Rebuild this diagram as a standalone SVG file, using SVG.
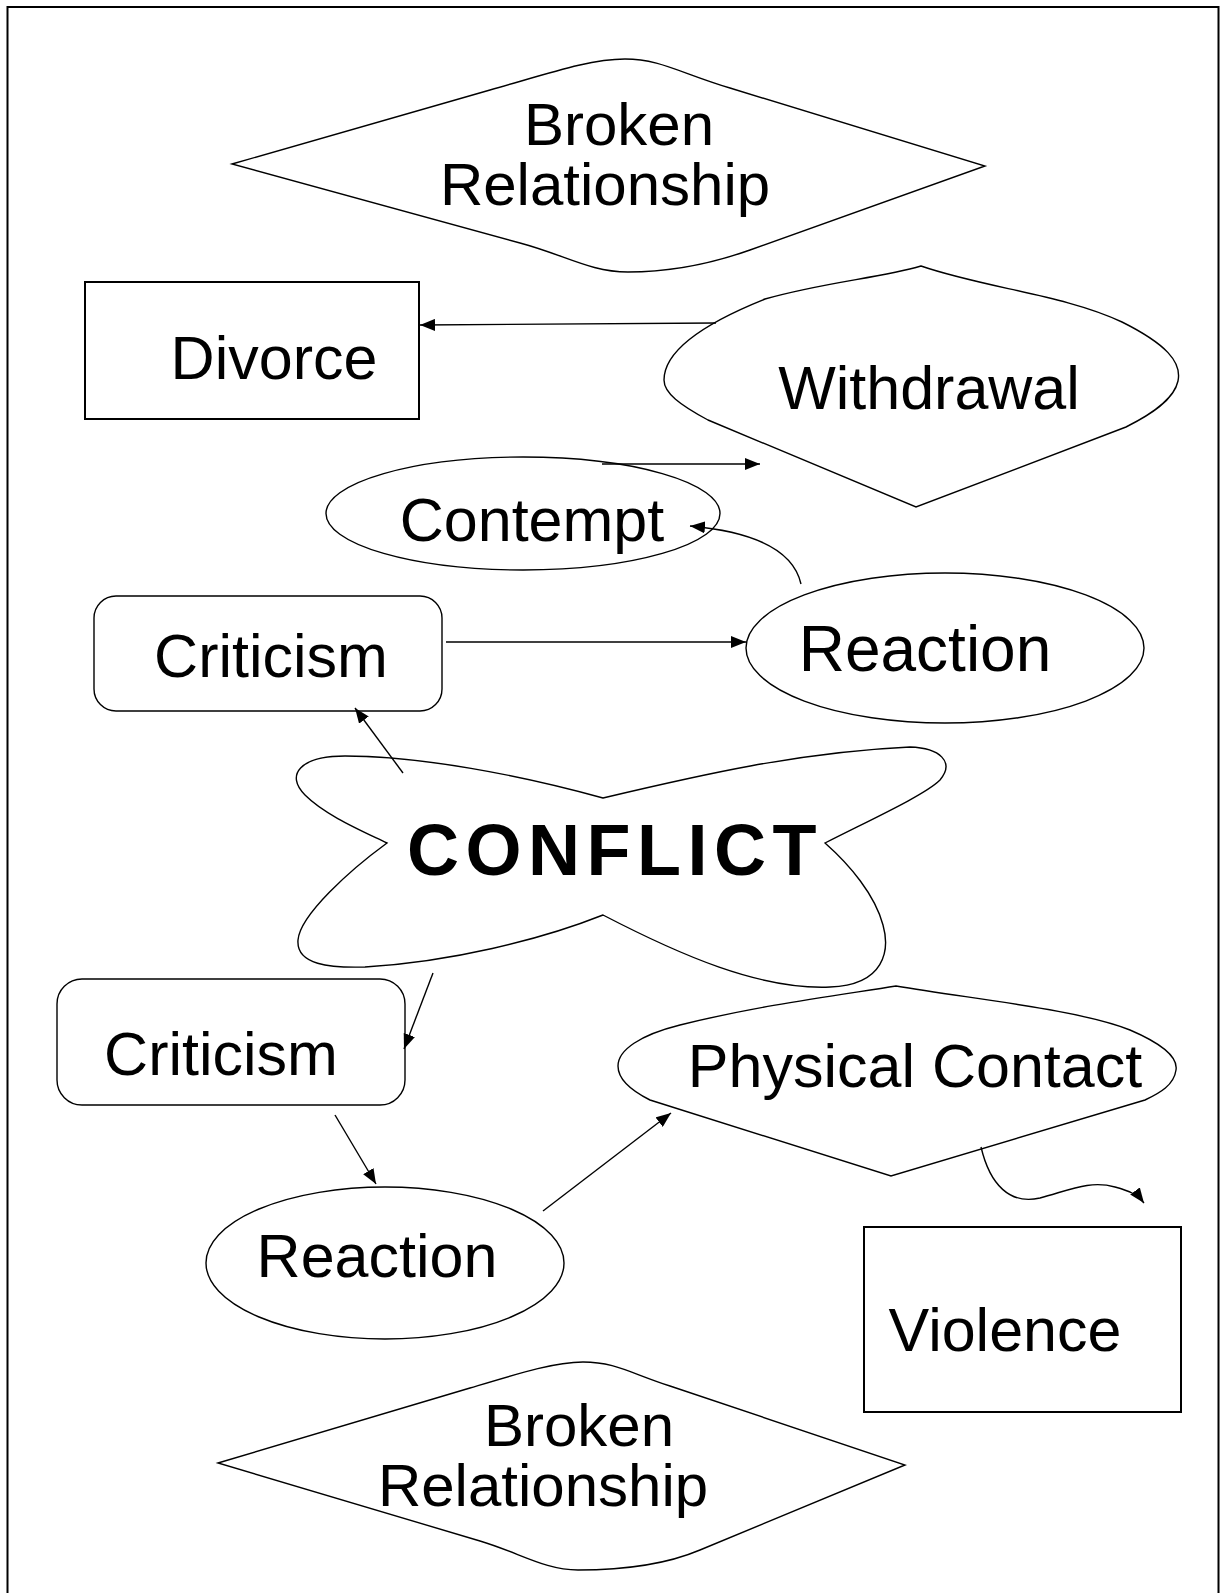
<svg xmlns="http://www.w3.org/2000/svg" width="1220" height="1593" viewBox="0 0 1220 1593">
<defs>
<style>
.shape{fill:#fff;stroke:#000;stroke-width:1.4}
.box{fill:#fff;stroke:#000;stroke-width:2}
.lbl{font-family:"Liberation Sans",Arial,sans-serif;font-size:61px;fill:#000;text-anchor:middle}
.br{font-size:60px}
.big{font-family:"Liberation Sans",Arial,sans-serif;font-size:72px;font-weight:bold;letter-spacing:6.5px;fill:#000}
.conn{fill:none;stroke:#000;stroke-width:1.4}
</style>
<marker id="ah" markerUnits="userSpaceOnUse" markerWidth="16" markerHeight="12" refX="15" refY="6" orient="auto">
<path d="M0,0 L15,6 L0,12 Z" fill="#000"/>
</marker>
</defs>
<rect x="7.5" y="7" width="1211" height="1620" fill="#fff" stroke="#000" stroke-width="2"/>

<g id="broken-top">
<path class="shape" d="M232,164 L490,90 C550,73 590,59 625,59 C660,59 680,73 730,88 L985,166 L750,250 C705,266 665,272 628,272 C590,272 565,255 520,243 Z"/>
<text class="lbl br"><tspan x="619" y="145">Broken</tspan><tspan x="605" y="205">Relationship</tspan></text>
</g>

<g id="divorce">
<rect class="box" x="85" y="282" width="334" height="137"/>
<text class="lbl" x="274" y="379">Divorce</text>
</g>

<g id="withdrawal">
<path class="shape" d="M921,266 C985,288 1065,295 1122,322 C1166,344 1182,362 1178,381 C1174,400 1150,415 1126,427 L916,507 L708,420 C680,405 664,393 664,380 C664,352 700,325 765,299 C825,282 880,278 921,266 Z"/>
<text class="lbl" x="929" y="409">Withdrawal</text>
</g>

<g id="contempt">
<ellipse class="shape" cx="523" cy="513.5" rx="197" ry="56.5"/>
<text class="lbl" x="532" y="541">Contempt</text>
</g>

<g id="criticism-top">
<rect class="shape" x="94" y="596" width="348" height="115" rx="22" ry="22"/>
<text class="lbl" x="271" y="677">Criticism</text>
</g>

<g id="reaction-top">
<ellipse class="shape" cx="945" cy="648" rx="199" ry="75"/>
<text class="lbl" x="925" y="671" style="font-size:64px">Reaction</text>
</g>

<g id="conflict">
<path class="shape" d="M603,798 C520,775 420,756 345,756 C300,756 285,775 305,795 C325,815 360,830 387,843 C350,870 300,915 298,940 C296,965 330,968 365,967 C450,962 540,940 603,915 C680,955 760,990 830,987 C885,985 890,950 883,925 C875,895 850,865 825,843 C870,820 925,795 940,780 C955,762 940,748 910,747 C800,752 700,775 603,798 Z"/>
<text class="big" x="407" y="875">CONFLICT</text>
</g>

<g id="criticism-bottom">
<rect class="shape" x="57" y="979" width="348" height="126" rx="25" ry="25"/>
<text class="lbl" x="221" y="1075">Criticism</text>
</g>

<g id="physical-contact">
<path class="shape" d="M896,986 C980,1000 1080,1010 1130,1030 C1165,1045 1178,1058 1176,1070 C1174,1085 1160,1093 1145,1100 L891,1176 L650,1100 C630,1090 618,1078 618,1066 C618,1050 640,1035 680,1025 C760,1005 840,995 896,986 Z"/>
<text class="lbl" x="915" y="1087">Physical Contact</text>
</g>

<g id="reaction-bottom">
<ellipse class="shape" cx="385" cy="1263" rx="179" ry="76"/>
<text class="lbl" x="377" y="1277">Reaction</text>
</g>

<g id="violence">
<rect class="box" x="864" y="1227" width="317" height="185"/>
<text class="lbl" x="1005" y="1351">Violence</text>
</g>

<g id="broken-bottom">
<path class="shape" d="M218,1463 L470,1388 C520,1373 555,1362 583,1362 C615,1362 630,1373 670,1386 L905,1465 L700,1550 C660,1567 615,1570 578,1570 C545,1570 520,1553 480,1541 Z"/>
<text class="lbl br"><tspan x="579" y="1446">Broken</tspan><tspan x="543" y="1506">Relationship</tspan></text>
</g>

<g id="connectors">
<line class="conn" x1="716" y1="323" x2="420" y2="325" marker-end="url(#ah)"/>
<line class="conn" x1="602" y1="464" x2="760" y2="464" marker-end="url(#ah)"/>
<path class="conn" d="M801,584 Q790,535 690,526" marker-end="url(#ah)"/>
<line class="conn" x1="446" y1="642" x2="746" y2="642" marker-end="url(#ah)"/>
<line class="conn" x1="403" y1="773" x2="355" y2="708" marker-end="url(#ah)"/>
<line class="conn" x1="433" y1="973" x2="404" y2="1049" marker-end="url(#ah)"/>
<line class="conn" x1="335" y1="1115" x2="376" y2="1184" marker-end="url(#ah)"/>
<line class="conn" x1="543" y1="1211" x2="671" y2="1113" marker-end="url(#ah)"/>
<path class="conn" d="M981,1147 C990,1185 1010,1205 1040,1198 C1070,1190 1090,1180 1115,1187 C1130,1191 1138,1195 1144,1203" marker-end="url(#ah)"/>
</g>
</svg>
